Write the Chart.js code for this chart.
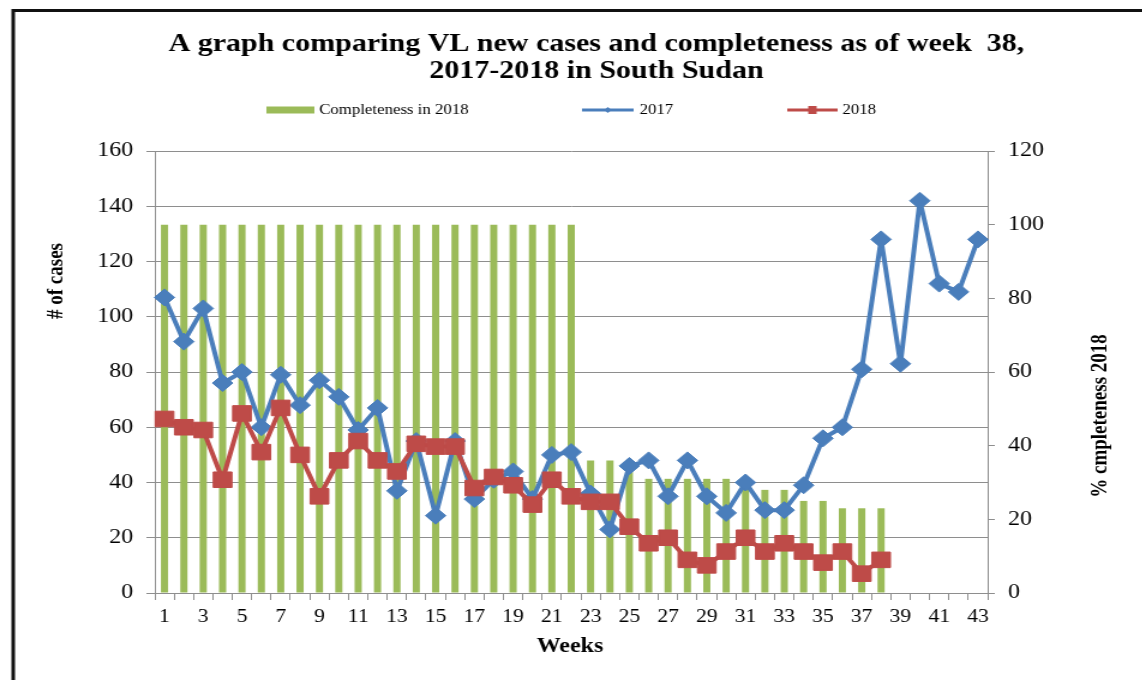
<!DOCTYPE html>
<html>
<head>
<meta charset="utf-8">
<title>VL new cases and completeness, week 38, 2017-2018, South Sudan</title>
<script src="https://cdn.jsdelivr.net/npm/chart.js@4.4.1/dist/chart.umd.min.js"></script>
<style>
  html, body { margin: 0; padding: 0; background: #fff; overflow: hidden; }
  /* the source picture is stretched sideways, so the chart is drawn narrower and widened */
  #wrap { width: 952px; height: 680px; transform: scaleX(1.2); transform-origin: 0 0; }
</style>
</head>
<body>
<div id="wrap"><canvas id="chart" width="952" height="680"></canvas></div>
<script>
    // ---- data ----
    const weeks = ['1', '2', '3', '4', '5', '6', '7', '8', '9', '10', '11', '12', '13', '14', '15',
        '16', '17', '18', '19', '20', '21', '22', '23', '24', '25', '26', '27', '28', '29', '30',
        '31', '32', '33', '34', '35', '36', '37', '38', '39', '40', '41', '42', '43'];

    const cases2017 = [107, 91, 103, 76, 80, 60, 79, 68, 77, 71, 59, 67, 37, 55, 28, 55, 34, 41, 44, 34,
        50, 51, 36, 23, 46, 48, 35, 48, 35, 29, 40, 30, 30, 39, 56, 60, 81, 128, 83, 142, 112, 109, 128];

    const cases2018 = [63, 60, 59, 41, 65, 51, 67, 50, 35, 48, 55, 48, 44, 54, 53, 53, 38, 42, 39, 32,
        41, 35, 33, 33, 24, 18, 20, 12, 10, 15, 20, 15, 18, 15, 11, 15, 7, 12, null, null, null, null, null];

    const completeness2018 = [100, 100, 100, 100, 100, 100, 100, 100, 100, 100, 100, 100, 100, 100, 100,
        100, 100, 100, 100, 100, 100, 100, 36, 36, 36, 31, 31, 31, 31, 31, 31, 28, 28, 25, 25, 23, 23, 23];

    const caseTicks = [0, 20, 40, 60, 80, 100, 120, 140, 160];
    const pctTicks = [0, 20, 40, 60, 80, 100, 120];

    const titleLines = ['A graph comparing VL new cases and completeness as of week  38,', '2017-2018 in South Sudan'];
    const legendLabels = ['Completeness in 2018', '2017', '2018'];

    // ---- look ----
    const GREEN = '#9BBB59';
    const BLUE = '#4A7EBB';
    const RED = '#BE4B48';
    const GRID = '#8E8E8E';
    const SERIF = '"Liberation Serif", "Times New Roman", serif';

    // title, legend, axis titles and the frame are drawn by hand
    const decorations = {
        id: 'decorations',
        afterDraw(chart) {
            const ctx = chart.ctx;
            ctx.save();

            // frame
            ctx.strokeStyle = '#111';
            ctx.lineWidth = 3;
            ctx.beginPath();
            ctx.moveTo(11, 680);
            ctx.lineTo(11, 10.5);
            ctx.lineTo(952, 10.5);
            ctx.stroke();

            // title
            ctx.fillStyle = '#000';
            ctx.textAlign = 'center';
            ctx.textBaseline = 'middle';
            ctx.font = 'bold 25px ' + SERIF;
            ctx.fillText(titleLines[0], 497, 45);
            ctx.fillText(titleLines[1], 497, 72);

            // legend
            const ly = 110;
            ctx.font = '14px ' + SERIF;
            ctx.textAlign = 'left';
            ctx.fillStyle = GREEN;
            ctx.fillRect(222, ly - 3.5, 40, 7);
            ctx.fillStyle = '#000';
            ctx.fillText(legendLabels[0], 266, ly);

            ctx.lineWidth = 3;
            ctx.strokeStyle = BLUE;
            ctx.beginPath(); ctx.moveTo(485, ly); ctx.lineTo(528, ly); ctx.stroke();
            ctx.fillStyle = BLUE;
            ctx.beginPath();
            ctx.moveTo(506.5, ly - 3); ctx.lineTo(509.5, ly); ctx.lineTo(506.5, ly + 3); ctx.lineTo(503.5, ly);
            ctx.closePath(); ctx.fill();
            ctx.fillStyle = '#000';
            ctx.fillText(legendLabels[1], 533, ly);

            ctx.strokeStyle = RED;
            ctx.beginPath(); ctx.moveTo(656, ly); ctx.lineTo(698, ly); ctx.stroke();
            ctx.fillStyle = RED;
            ctx.fillRect(673.5, ly - 4, 7, 8);
            ctx.fillStyle = '#000';
            ctx.fillText(legendLabels[2], 702, ly);

            // axis titles
            ctx.font = 'bold 19px ' + SERIF;
            ctx.textAlign = 'center';
            ctx.save();
            ctx.translate(47, 281);
            ctx.rotate(-Math.PI / 2);
            ctx.fillText('# of cases', 0, 0);
            ctx.restore();
            ctx.save();
            ctx.translate(917, 416);
            ctx.rotate(-Math.PI / 2);
            ctx.fillText('% cmpleteness 2018', 0, 0);
            ctx.restore();
            ctx.font = 'bold 20px ' + SERIF;
            ctx.fillText('Weeks', 475, 647);

            ctx.restore();
        }
    };

    const ctx = document.getElementById('chart').getContext('2d');
    const chart = new Chart(ctx, {
        type: 'bar',
        data: {
            labels: weeks,
            datasets: [
                {
                    type: 'line',
                    label: legendLabels[2],
                    data: cases2018,
                    yAxisID: 'y',
                    order: 0,
                    borderColor: RED,
                    borderWidth: 4,
                    borderJoinStyle: 'round',
                    backgroundColor: RED,
                    pointStyle: 'rect',
                    pointRadius: 11,
                    pointBorderWidth: 1,
                    pointBackgroundColor: RED,
                    pointBorderColor: RED,
                    tension: 0,
                    spanGaps: false
                },
                {
                    type: 'line',
                    label: legendLabels[1],
                    data: cases2017,
                    yAxisID: 'y',
                    order: 1,
                    borderColor: BLUE,
                    borderWidth: 4,
                    borderJoinStyle: 'round',
                    backgroundColor: BLUE,
                    pointStyle: 'rectRot',
                    pointRadius: 8.5,
                    pointBorderWidth: 1,
                    pointBackgroundColor: BLUE,
                    pointBorderColor: BLUE,
                    tension: 0
                },
                {
                    type: 'bar',
                    label: legendLabels[0],
                    data: completeness2018,
                    yAxisID: 'yPct',
                    order: 2,
                    backgroundColor: GREEN,
                    barPercentage: 0.37,
                    categoryPercentage: 1.0
                }
            ]
        },
        options: {
            responsive: false,
            animation: false,
            devicePixelRatio: 1,
            layout: { padding: { top: 151, left: 0, right: 0, bottom: 0 } },
            plugins: {
                legend: { display: false },
                title: { display: false },
                tooltip: { enabled: false }
            },
            scales: {
                x: {
                    offset: true,
                    grid: { display: true, offset: true, drawOnChartArea: false, drawTicks: true, tickLength: 7, color: GRID },
                    border: { display: true, color: GRID, width: 1 },
                    ticks: {
                        autoSkip: false,
                        maxRotation: 0,
                        padding: 6,
                        color: '#000',
                        font: { family: SERIF, size: 18 },
                        callback: function(value, index) {
                            return index % 2 === 0 ? this.getLabelForValue(value) : '';
                        }
                    },
                    afterFit: function(scale) { scale.height = 87; }
                },
                y: {
                    position: 'left',
                    min: caseTicks[0],
                    max: caseTicks[caseTicks.length - 1],
                    grid: { color: GRID, tickLength: 7 },
                    border: { display: true, color: GRID },
                    ticks: {
                        stepSize: caseTicks[1] - caseTicks[0],
                        padding: 11,
                        color: '#000',
                        font: { family: SERIF, size: 20 }
                    },
                    afterFit: function(scale) { scale.width = 129; }
                },
                yPct: {
                    position: 'right',
                    min: pctTicks[0],
                    max: pctTicks[pctTicks.length - 1],
                    grid: { drawOnChartArea: false, color: GRID, tickLength: 6 },
                    border: { display: true, color: GRID },
                    ticks: {
                        stepSize: pctTicks[1] - pctTicks[0],
                        padding: 11,
                        color: '#000',
                        font: { family: SERIF, size: 20 }
                    },
                    afterFit: function(scale) { scale.width = 129; }
                }
            }
        },
        plugins: [decorations]
    });
</script>
</body>
</html>
